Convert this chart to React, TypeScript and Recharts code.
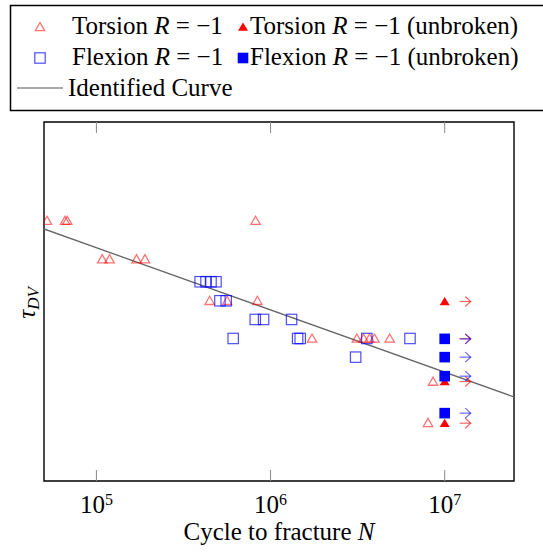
import { ScatterChart, Scatter, XAxis, YAxis, ReferenceArea } from 'recharts'

// S-N data, tau in arbitrary units (no y tick labels in the figure)
const torsionBroken = [
  { n: 5.2e4, tau: 72.5 }, { n: 6.6e4, tau: 72.5 }, { n: 6.8e4, tau: 72.5 },
  { n: 1.08e5, tau: 61.8 }, { n: 1.19e5, tau: 61.8 }, { n: 1.7e5, tau: 61.8 }, { n: 1.9e5, tau: 61.8 },
  { n: 8.2e5, tau: 72.5 },
  { n: 4.47e5, tau: 50.2 }, { n: 5.63e5, tau: 50.2 }, { n: 8.4e5, tau: 50.2 },
  { n: 1.73e6, tau: 39.7 }, { n: 3.13e6, tau: 39.7 }, { n: 3.42e6, tau: 39.7 }, { n: 3.7e6, tau: 39.7 },
  { n: 3.95e6, tau: 39.7 }, { n: 4.83e6, tau: 39.7 },
  { n: 8.57e6, tau: 27.7 }, { n: 8.02e6, tau: 16.2 },
]

const flexionBroken = [
  { n: 3.94e5, tau: 55.5 }, { n: 4.26e5, tau: 55.5 }, { n: 4.55e5, tau: 55.5 }, { n: 4.86e5, tau: 55.5 },
  { n: 5.12e5, tau: 50.2 }, { n: 5.56e5, tau: 50.2 },
  { n: 8.17e5, tau: 45.0 }, { n: 9.12e5, tau: 45.0 }, { n: 1.32e6, tau: 45.0 },
  { n: 6.1e5, tau: 39.7 }, { n: 1.43e6, tau: 39.7 }, { n: 1.48e6, tau: 39.7 },
  { n: 3.57e6, tau: 39.7 }, { n: 6.32e6, tau: 39.7 },
  { n: 3.08e6, tau: 34.5 },
]

const torsionUnbroken = [
  { n: 1e7, tau: 50.0 }, { n: 1e7, tau: 39.6 }, { n: 1e7, tau: 27.7 }, { n: 1e7, tau: 16.1 },
]

const flexionUnbroken = [
  { n: 1e7, tau: 39.6 }, { n: 1e7, tau: 34.5 }, { n: 1e7, tau: 29.2 }, { n: 1e7, tau: 18.9 },
]

const identifiedCurve = [
  { n: 5e4, tau: 70.2 },
  { n: 2.5e7, tau: 23.4 },
]

const xTicks = [1e5, 1e6, 1e7]
const xDomain = [5e4, 2.5e7]
const yDomain = [0, 100]

const SERIF = '"Liberation Serif", "DejaVu Serif", serif'
const RED = '#ff0000'
const BLUE = '#0000ff'

function OpenTriangle({ cx, cy }: any) {
  return (
    <polygon
      points={`${cx},${cy - 4.5} ${cx - 4.7},${cy + 3.7} ${cx + 4.7},${cy + 3.7}`}
      fill="none" stroke={RED} strokeOpacity={0.55} strokeWidth={1.3}
    />
  )
}

function OpenSquare({ cx, cy }: any) {
  return (
    <rect x={cx - 5.2} y={cy - 5.2} width={10.4} height={10.4}
      fill="none" stroke={BLUE} strokeOpacity={0.7} strokeWidth={1.2} />
  )
}

function Arrow({ cx, cy, color }: any) {
  return (
    <g stroke={color} strokeOpacity={0.6} strokeWidth={1.2} fill="none">
      <line x1={cx + 15} y1={cy} x2={cx + 26} y2={cy} />
      <polyline points={`${cx + 20.5},${cy - 5} ${cx + 26},${cy} ${cx + 20.5},${cy + 5}`} />
    </g>
  )
}

function FilledTriangleRunout({ cx, cy }: any) {
  return (
    <g>
      <polygon points={`${cx},${cy - 4.5} ${cx - 5},${cy + 3.7} ${cx + 5},${cy + 3.7}`} fill={RED} />
      <Arrow cx={cx} cy={cy} color={RED} />
    </g>
  )
}

function FilledSquareRunout({ cx, cy }: any) {
  return (
    <g>
      <rect x={cx - 5.3} y={cy - 5.3} width={10.6} height={10.6} fill={BLUE} />
      <Arrow cx={cx} cy={cy} color={BLUE} />
    </g>
  )
}

// bottom axis: tickSize/tickMargin are 0, so y is the axis line itself
function BottomTick({ x, y, payload }: any) {
  const exp = Math.round(Math.log10(payload.value))
  return (
    <g>
      <line x1={x} y1={y} x2={x} y2={y - 11} stroke="#8a8a8a" strokeWidth={1} />
      <text x={x} y={y + 32} textAnchor="middle" fontFamily={SERIF} fontSize={25} fill="#000">
        10<tspan dy={-8} fontSize={16}>{exp}</tspan>
      </text>
    </g>
  )
}

function TopTick({ x, y }: any) {
  return <line x1={x} y1={y} x2={x} y2={y + 11} stroke="#8a8a8a" strokeWidth={1} />
}

function Legend() {
  const txt = { fontFamily: SERIF, fontSize: 25, fill: '#000' }
  return (
    <svg width={543} height={120} style={{ position: 'absolute', left: 0, top: 0 }}>
      <rect x={10.5} y={5.5} width={600} height={105} fill="none" stroke="#000" strokeWidth={1.5} />
      <OpenTriangle cx={40} cy={27} />
      <text x={72} y={34} {...txt}>Torsion <tspan fontStyle="italic">R</tspan> = −1</text>
      <polygon points="243,22.5 238,30.7 248,30.7" fill={RED} />
      <text x={250} y={34} {...txt}>Torsion <tspan fontStyle="italic">R</tspan> = −1 (unbroken)</text>
      <OpenSquare cx={40} cy={58} />
      <text x={72} y={65} {...txt}>Flexion <tspan fontStyle="italic">R</tspan> = −1</text>
      <rect x={237.7} y={52.7} width={10.6} height={10.6} fill={BLUE} />
      <text x={250} y={65} {...txt}>Flexion <tspan fontStyle="italic">R</tspan> = −1 (unbroken)</text>
      <line x1={17} y1={88} x2={63} y2={88} stroke="#555" strokeWidth={1.2} />
      <text x={68} y={96} {...txt}>Identified Curve</text>
    </svg>
  )
}

export default function App() {
  return (
    <div style={{ position: 'absolute', left: 0, top: 0, width: 543, height: 555, background: '#fff' }}>
      <Legend />
      <ScatterChart width={543} height={555} margin={{ top: 102, right: 29, bottom: 14, left: 44 }}>
        <XAxis
          dataKey="n" type="number" scale="log" domain={xDomain} allowDataOverflow
          ticks={xTicks} height={60} tickSize={0} tickMargin={0} axisLine={false}
          tick={<BottomTick />} interval={0}
        />
        <XAxis
          xAxisId="top" orientation="top" dataKey="n" type="number" scale="log" domain={xDomain}
          allowDataOverflow ticks={xTicks} height={20} tickSize={0} tickMargin={0} axisLine={false}
          tick={<TopTick />} interval={0}
        />
        <YAxis dataKey="tau" type="number" domain={yDomain} hide />
        <ReferenceArea x1={xDomain[0]} x2={xDomain[1]} y1={yDomain[0]} y2={yDomain[1]}
          fill="none" stroke="#000" strokeWidth={1.4} />
        <Scatter data={identifiedCurve} line={{ stroke: '#666', strokeWidth: 1.3 }}
          shape={() => <g />} isAnimationActive={false} />
        <Scatter data={torsionBroken} shape={<OpenTriangle />} isAnimationActive={false} />
        <Scatter data={flexionBroken} shape={<OpenSquare />} isAnimationActive={false} />
        <Scatter data={torsionUnbroken} shape={<FilledTriangleRunout />} isAnimationActive={false} />
        <Scatter data={flexionUnbroken} shape={<FilledSquareRunout />} isAnimationActive={false} />
      </ScatterChart>
      <svg width={543} height={555} style={{ position: 'absolute', left: 0, top: 0, pointerEvents: 'none' }}>
        <text x={279} y={540} textAnchor="middle" fontFamily={SERIF} fontSize={25} fill="#000">
          Cycle to fracture <tspan fontStyle="italic">N</tspan>
        </text>
        <text x={35} y={303} transform="rotate(-90, 35, 303)" textAnchor="middle"
          fontFamily={SERIF} fontSize={25} fontStyle="italic" fill="#000">
          τ<tspan dy={4} fontSize={17}>DV</tspan>
        </text>
      </svg>
    </div>
  )
}
